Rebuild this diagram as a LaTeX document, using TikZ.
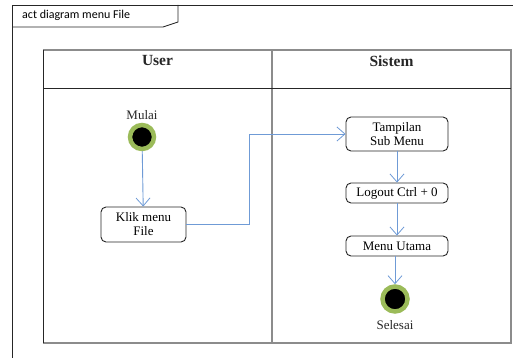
\documentclass[tikz,border=0pt]{standalone}
\usepackage{fontspec}
\setmainfont{Liberation Serif}
\newfontfamily\framefont{Carlito}
\usetikzlibrary{arrows.meta}

\definecolor{flowblue}{HTML}{6F9BD6}
\definecolor{ringgreen}{HTML}{9BBB59}
\definecolor{lanegray}{HTML}{8C8C8C}
\definecolor{inkdark}{HTML}{262626}

\tikzset{
  actbox/.style={draw=inkdark, line width=0.9pt, rounded corners=5pt, fill=white,
    minimum width=102pt, align=center, inner sep=0pt, font=\fontsize{13}{14}\selectfont},
  flow/.style={draw=flowblue, line width=0.9pt, -{Straight Barb[length=8pt,width=14pt,line width=0.8pt]}},
  startdot/.style={circle, fill=black, draw=ringgreen, line width=4.5pt, minimum size=24pt, inner sep=0pt},
  lbl/.style={font=\fontsize{13}{14}\selectfont, text=inkdark},
  lanehead/.style={font=\fontsize{15.5}{17}\selectfont\bfseries, text=inkdark}
}

\begin{document}
\begin{tikzpicture}[x=1pt, y=-1pt]
  \useasboundingbox (0,0) rectangle (521,358);

  % diagram frame with its name tab
  \draw[inkdark, line width=0.8pt] (12,358) -- (12,5) -- (513,5);
  \draw[inkdark, line width=0.8pt] (178,5) -- (178,22) -- (163,27) -- (12,27);
  \node[anchor=west, font=\framefont\fontsize{12}{13}\selectfont, inner sep=0pt] (ttl) at (22,15) {act diagram menu File};

  % swimlanes
  \draw[lanegray, line width=1.4pt] (43,50) -- (511,50) -- (511,343) -- (43,343);
  \draw[lanegray, line width=1.4pt] (272,50) -- (272,343);
  \draw[inkdark, line width=1pt] (43,50) -- (43,343);
  \draw[inkdark, line width=1pt] (43,89) -- (511,89);
  \node[lanehead] (hu) at (157.5,61) {User};
  \node[lanehead] (hs) at (391.5,61) {Sistem};

  % activity nodes
  \node[startdot] (start) at (142,137) {};
  \node[lbl] (startlbl) at (142,115) {Mulai};

  \node[actbox, minimum width=85pt, minimum height=35pt] (klik) at (143.5,224.5) {Klik menu\\File};
  \node[actbox, minimum height=34pt] (tampil) at (397,134) {Tampilan\\Sub Menu};
  \node[actbox, minimum height=20pt] (logout) at (397,193) {Logout Ctrl + 0};
  \node[actbox, minimum height=20pt] (utama) at (397,246) {Menu Utama};

  \node[startdot, minimum size=25pt] (stop) at (395,299) {};
  \node[lbl] (stoplbl) at (395,325) {Selesai};

  % control flow
  \draw[flow] (start) -- (klik);
  \draw[flow] (klik.east) -- (249,224.5) |- (tampil.west);
  \draw[flow] (tampil) -- (logout);
  \draw[flow] (logout) -- (utama);
  \draw[flow] (utama.south -| stop) -- (stop);
\end{tikzpicture}
\end{document}
